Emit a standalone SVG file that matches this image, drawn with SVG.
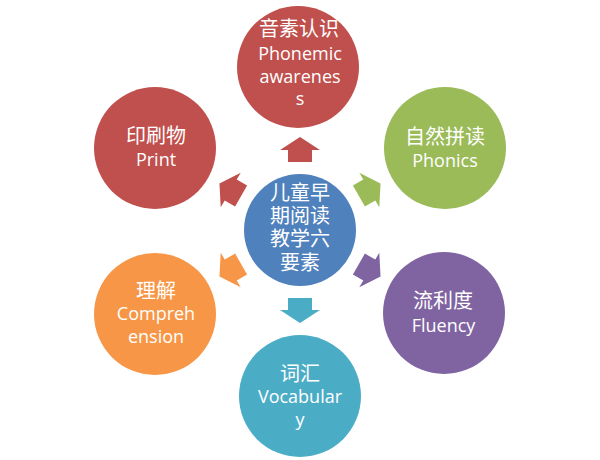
<svg xmlns="http://www.w3.org/2000/svg" width="600" height="460" viewBox="0 0 600 460">
<defs>
<style>
.t{font-family:"Open Sans","Noto Sans CJK SC",sans-serif;fill:#fff;text-anchor:middle}
.en{font-size:18px}
.zh{font-size:20px}
.zc{font-size:20px}
</style>
<path id="arr" d="M68,-12 L80,-12 L80,-20 L93,0 L80,20 L80,12 L68,12 Z"/>
</defs>
<rect width="600" height="460" fill="#fff"/>
<g id="connectors">
<use href="#arr" fill="#C0504D" transform="translate(300,230) rotate(-90)"/>
<use href="#arr" fill="#9BBB59" transform="translate(300,230) rotate(-30)"/>
<use href="#arr" fill="#8064A2" transform="translate(300,230) rotate(30)"/>
<use href="#arr" fill="#4BACC6" transform="translate(300,230) rotate(90)"/>
<use href="#arr" fill="#F79646" transform="translate(300,230) rotate(150)"/>
<use href="#arr" fill="#C0504D" transform="translate(300,230) rotate(210)"/>
</g>
<g id="center">
<circle cx="300" cy="230" r="56" fill="#4F81BD"/>
<text class="t zc" x="300" y="199.5">儿童早</text>
<text class="t zc" x="300" y="222.5">期阅读</text>
<text class="t zc" x="300" y="245.5">教学六</text>
<text class="t zc" x="300" y="269.5">要素</text>
</g>
<g id="phonemic">
<circle cx="298" cy="67" r="61" fill="#C0504D"/>
<text class="t zh" x="299" y="36">音素认识</text>
<text class="t en" x="300" y="60">Phonemic</text>
<text class="t en" x="300" y="82.5">awarenes</text>
<text class="t en" x="300" y="105">s</text>
</g>
<g id="phonics">
<circle cx="445" cy="148" r="61" fill="#9BBB59"/>
<text class="t zh" x="445" y="143.5">自然拼读</text>
<text class="t en" x="445" y="167">Phonics</text>
</g>
<g id="fluency">
<circle cx="444" cy="313" r="61" fill="#8064A2"/>
<text class="t zh" x="443" y="307.5">流利度</text>
<text class="t en" x="443.5" y="332">Fluency</text>
</g>
<g id="vocabulary">
<circle cx="300" cy="396" r="61" fill="#4BACC6"/>
<text class="t zh" x="300" y="380.5">词汇</text>
<text class="t en" x="300" y="403">Vocabular</text>
<text class="t en" x="300" y="426">y</text>
</g>
<g id="comprehension">
<circle cx="155" cy="314" r="61" fill="#F79646"/>
<text class="t zh" x="156" y="297.5">理解</text>
<text class="t en" x="156" y="320">Compreh</text>
<text class="t en" x="156" y="343">ension</text>
</g>
<g id="print">
<circle cx="155" cy="148" r="61" fill="#C0504D"/>
<text class="t zh" x="156" y="142.5">印刷物</text>
<text class="t en" x="156" y="166">Print</text>
</g>
</svg>
